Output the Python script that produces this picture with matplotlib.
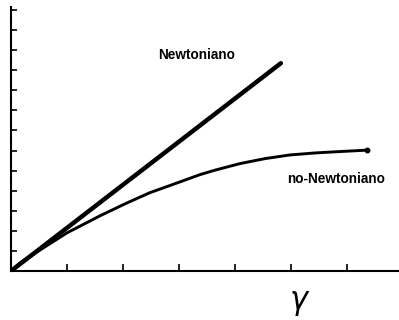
import matplotlib
matplotlib.use('Agg')
import matplotlib.pyplot as plt

# Curvas de esfuerzo vs. velocidad de deformación
newton_x = [0.0, 4.82]
newton_y = [0.0, 10.35]

no_newton_x = [0.0, 0.16, 0.52, 1.0, 1.59, 2.04, 2.48, 2.93, 3.375, 3.64,
               4.09, 4.54, 4.98, 5.43, 5.875, 6.36]
no_newton_y = [0.0, 0.4, 1.05, 1.9, 2.75, 3.35, 3.9, 4.35, 4.8, 5.02,
               5.35, 5.6, 5.78, 5.88, 5.95, 6.02]

x_ticks = [1, 2, 3, 4, 5, 6]
y_ticks = list(range(0, 14))

fig = plt.figure(figsize=(3.99, 3.2), dpi=100)
ax = fig.add_axes([11 / 399, 1 - 271 / 320, 1 - 11 / 399, 264 / 320])

ax.plot(newton_x, newton_y, color='black', linewidth=3.2, solid_capstyle='round')
ax.plot(no_newton_x, no_newton_y, color='black', linewidth=2.1,
        solid_capstyle='round', solid_joinstyle='round')
ax.plot(no_newton_x[-1], no_newton_y[-1], 'o', color='black', markersize=3.2)

ax.set_xlim(0, 6.93)
ax.set_ylim(0, 13.15)
ax.set_xticks(x_ticks)
ax.set_yticks(y_ticks)
ax.set_xticklabels([])
ax.set_yticklabels([])
ax.tick_params(axis='x', direction='in', length=5, width=1.2)
ax.tick_params(axis='y', direction='in', length=4, width=1.2)

for side in ['top', 'right']:
    ax.spines[side].set_visible(False)
for side in ['left', 'bottom']:
    ax.spines[side].set_linewidth(1.5)

ax.text(2.62, 10.75, 'Newtoniano', fontsize=9.8, fontweight='bold',
        family='Liberation Sans', ha='left', va='center')
ax.text(4.93, 4.6, 'no-Newtoniano', fontsize=9.8, fontweight='bold',
        family='Liberation Sans', ha='left', va='center')

fig.text(300 / 399, 1 - 303 / 320, r'$\gamma$', fontsize=22,
         ha='center', va='center', family='DejaVu Serif')

fig.savefig('out.png', dpi=100)
